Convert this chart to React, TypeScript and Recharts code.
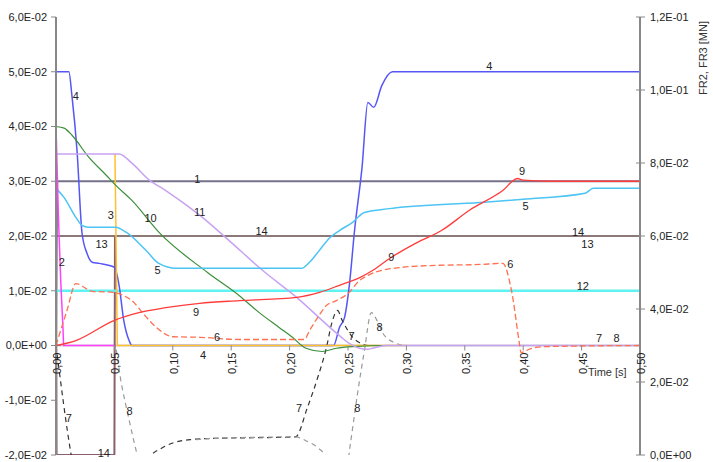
import { LineChart, Line, XAxis, YAxis, ReferenceLine, ReferenceDot } from "recharts";

// time [s] and value pairs, one pair of arrays per curve
const t1 = [0, 0.001, 0.5];
const v1 = [0, 0.03, 0.03];

const t2 = [0, 0.002, 0.004, 0.006, 0.0065, 0.05];
const v2 = [0.04, 0.024, 0.012, 0.003, 0, 0];

const t3 = [0.0505, 0.0525, 0.3];
const v3 = [0.035, 0, 0];

const t4 = [0, 0.011, 0.0137, 0.018, 0.0223, 0.0266, 0.031, 0.037, 0.05, 0.054, 0.058, 0.0626, 0.065, 0.2376, 0.2427, 0.247, 0.2513, 0.2556, 0.262, 0.267, 0.272, 0.279, 0.288, 0.5];
const v4 = [0.05, 0.05, 0.0455, 0.0356, 0.0205, 0.0168, 0.0152, 0.015, 0.0143, 0.011, 0.0046, 0.0009, 0, 0, 0.0033, 0.0051, 0.0113, 0.021, 0.0325, 0.0444, 0.0435, 0.0475, 0.05, 0.05];

const t5 = [0, 0.007, 0.017, 0.022, 0.028, 0.051, 0.06, 0.077, 0.088, 0.103, 0.21, 0.217, 0.2256, 0.234, 0.2427, 0.254, 0.264, 0.2856, 0.363, 0.4, 0.453, 0.46, 0.5];
const v5 = [0.0287, 0.027, 0.0234, 0.022, 0.0216, 0.0216, 0.0207, 0.0174, 0.015, 0.0141, 0.0141, 0.0152, 0.0174, 0.0196, 0.021, 0.0225, 0.0243, 0.025, 0.0261, 0.0267, 0.0278, 0.0287, 0.0287];

const t6 = [0, 0.0094, 0.017, 0.031, 0.05, 0.058, 0.065, 0.074, 0.086, 0.1, 0.123, 0.157, 0.2127, 0.217, 0.224, 0.2315, 0.24, 0.25, 0.26, 0.267, 0.283, 0.32, 0.363, 0.3825, 0.39, 0.397, 0.398, 0.406, 0.42, 0.5];
const v6 = [0, 0.0064, 0.0113, 0.0099, 0.0097, 0.0091, 0.0082, 0.006, 0.0033, 0.0016, 0.0015, 0.0011, 0.0011, 0.0027, 0.0051, 0.0073, 0.0082, 0.0095, 0.0119, 0.0128, 0.0139, 0.0146, 0.0148, 0.015, 0.01, 0, -0.0013, -0.0006, -0.0002, 0];

const t7 = [0, 0.013, 0.025, 0.05, 0.07, 0.08, 0.09, 0.1, 0.115, 0.13, 0.205, 0.2153, 0.224, 0.2315, 0.236, 0.241, 0.245, 0.25, 0.254, 0.26, 0.268, 0.5];
const v7 = [0, -0.02, -0.032, -0.035, -0.026, -0.0205, -0.0188, -0.0178, -0.0172, -0.017, -0.0167, -0.0113, -0.0059, -0.0004, 0.004, 0.0064, 0.0046, 0.0027, 0.0015, 0.0005, 0, 0];

const t8 = [0, 0.05, 0.056, 0.063, 0.0695, 0.078, 0.09, 0.12, 0.13, 0.205, 0.215, 0.225, 0.232, 0.24, 0.247, 0.252, 0.258, 0.264, 0.27, 0.275, 0.28, 0.29, 0.3, 0.5];
const v8 = [0, 0, -0.007, -0.014, -0.02, -0.027, null, -0.0172, -0.017, -0.0167, -0.0175, -0.0188, -0.0205, -0.025, -0.025, -0.018, -0.009, -0.001, 0.006, 0.0045, 0.0022, 0.0005, 0, 0];

const t9 = [0, 0.017, 0.05, 0.071, 0.094, 0.123, 0.157, 0.206, 0.2256, 0.2427, 0.26, 0.271, 0.2856, 0.309, 0.33, 0.354, 0.3825, 0.395, 0.4, 0.423, 0.5];
const v9 = [0, 0.0009, 0.0046, 0.006, 0.0069, 0.0077, 0.0082, 0.0088, 0.0097, 0.011, 0.0124, 0.0137, 0.0159, 0.0188, 0.021, 0.0247, 0.0283, 0.0305, 0.0302, 0.03, 0.03];

const t10 = [0, 0.007, 0.0137, 0.028, 0.043, 0.051, 0.065, 0.088, 0.13, 0.157, 0.174, 0.191, 0.2024, 0.214, 0.228, 0.24, 0.254, 0.283, 0.5];
const v10 = [0.04, 0.0397, 0.0384, 0.0344, 0.0311, 0.0293, 0.0265, 0.0207, 0.0133, 0.0091, 0.006, 0.0033, 0.0015, -0.0005, -0.0011, -0.0005, -0.0002, 0, 0];

const t11 = [0, 0.054, 0.065, 0.08, 0.094, 0.123, 0.148, 0.177, 0.206, 0.2427, 0.251, 0.26, 0.266, 0.273, 0.283, 0.5];
const v11 = [0.035, 0.035, 0.0333, 0.0302, 0.0283, 0.0238, 0.0192, 0.0137, 0.0088, 0.0018, 0.0004, -0.0005, -0.0007, -0.0004, 0, 0];

const t12 = [0, 0.5];
const v12 = [0.01, 0.01];

const t13 = [0, 0.5];
const v13 = [0.02, 0.02];

// FR on the right axis
const t14 = [0, 0.0005, 0.05, 0.0505, 0.5];
const v14 = [0.06, 0, 0, 0.06, 0.06];

const leftTicks = [-0.02, -0.01, 0, 0.01, 0.02, 0.03, 0.04, 0.05, 0.06];
const rightTicks = [0, 0.02, 0.04, 0.06, 0.08, 0.1, 0.12];
const timeTicks = [0, 0.05, 0.1, 0.15, 0.2, 0.25, 0.3, 0.35, 0.4, 0.45, 0.5];

// curve number labels sitting on the plot
const labelText = ["1", "4", "4", "4", "3", "10", "11", "14", "14", "13", "13", "2", "5", "5", "9", "9", "9", "6", "6", "12", "7", "14", "8", "7", "8", "7", "8", "7", "8"];
const labelT = [0.121, 0.017, 0.371, 0.126, 0.047, 0.081, 0.123, 0.176, 0.447, 0.039, 0.455, 0.005, 0.087, 0.402, 0.12, 0.287, 0.399, 0.138, 0.389, 0.451, 0.011, 0.041, 0.063, 0.208, 0.258, 0.253, 0.277, 0.465, 0.48];
const labelV = [0.0305, 0.0455, 0.051, -0.0018, 0.0238, 0.0232, 0.0243, 0.021, 0.0207, 0.0186, 0.0185, 0.0152, 0.0137, 0.0254, 0.0062, 0.0161, 0.0318, 0.0016, 0.0148, 0.0108, -0.0133, -0.0197, -0.0119, -0.0115, -0.0115, 0.0018, 0.0033, 0.0013, 0.0013];

const zip = (t: number[], v: (number | null)[]) => t.map((x, i) => ({ t: x, v: v[i] }));

const series = [
  { id: "14", data: zip(t14, v14), color: "#8c5f6a", width: 2, axis: "right", type: "linear" },
  { id: "13", data: zip(t13, v13), color: "#8b7878", width: 2, axis: "left", type: "linear" },
  { id: "1", data: zip(t1, v1), color: "#76728a", width: 2, axis: "left", type: "linear" },
  { id: "12", data: zip(t12, v12), color: "#5ef2f2", width: 2.5, axis: "left", type: "linear" },
  { id: "4", data: zip(t4, v4), color: "#5656f5", width: 1.5, axis: "left", type: "monotone" },
  { id: "7", data: zip(t7, v7), color: "#333333", width: 1.2, axis: "left", type: "monotone", dash: "5 4" },
  { id: "8", data: zip(t8, v8), color: "#9a9a9a", width: 1.2, axis: "left", type: "monotone", dash: "5 4" },
  { id: "3", data: zip(t3, v3), color: "#ffc030", width: 1.5, axis: "left", type: "linear" },
  { id: "10", data: zip(t10, v10), color: "#3a8f3a", width: 1.2, axis: "left", type: "monotone" },
  { id: "11", data: zip(t11, v11), color: "#c8a2f2", width: 1.5, axis: "left", type: "monotone" },
  { id: "5", data: zip(t5, v5), color: "#4cc4f4", width: 1.5, axis: "left", type: "monotone" },
  { id: "2", data: zip(t2, v2), color: "#ff40ff", width: 1.5, axis: "left", type: "linear" },
  { id: "6", data: zip(t6, v6), color: "#ff7050", width: 1.3, axis: "left", type: "monotone", dash: "6 3" },
  { id: "9", data: zip(t9, v9), color: "#ff3b3b", width: 1.3, axis: "left", type: "monotone" },
];

const font = "'Liberation Sans', Arial, sans-serif";

const sci = (val: number) => {
  const [m, e] = val.toExponential(1).split("e");
  const n = parseInt(e, 10);
  return `${m.replace(".", ",")}E${n < 0 ? "-" : "+"}${String(Math.abs(n)).padStart(2, "0")}`;
};

const RightTick = (p: any) => (
  <g>
    <line x1={p.x - 14} y1={p.y} x2={p.x - 10} y2={p.y} stroke="#888" />
    <text x={p.x} y={p.y} dy={4} fontSize={11} fontFamily={font} fill="#222">
      {sci(p.payload.value)}
    </text>
  </g>
);

export default function App() {
  return (
    <div style={{ position: "relative", width: 713, height: 462, background: "#fff" }}>
      <style>{"body{margin:0}"}</style>
      <LineChart width={713} height={462} margin={{ top: 17, right: 0, bottom: 7, left: 0 }}>
        <XAxis type="number" dataKey="t" domain={[0, 0.5]} hide allowDataOverflow />
        <YAxis
          yAxisId="left"
          domain={[-0.02, 0.06]}
          ticks={leftTicks}
          interval={0}
          allowDataOverflow
          width={56}
          tickFormatter={sci}
          tickSize={5}
          tickMargin={4}
          axisLine={{ stroke: "#888", strokeWidth: 2 }}
          tickLine={{ stroke: "#888" }}
          tick={{ fontSize: 11, fontFamily: font, fill: "#222" }}
        />
        <YAxis
          yAxisId="right"
          orientation="right"
          domain={[0, 0.12]}
          ticks={rightTicks}
          interval={0}
          allowDataOverflow
          width={73}
          tickSize={5}
          tickMargin={5}
          axisLine={{ stroke: "#888", strokeWidth: 2 }}
          tickLine={{ stroke: "#888" }}
          tick={RightTick}
        />
        <ReferenceLine yAxisId="left" y={0} stroke="#cfcfcf" strokeWidth={2} />
        {series.map((s) => (
          <Line
            key={s.id}
            yAxisId={s.axis}
            data={s.data}
            dataKey="v"
            type={s.type as any}
            stroke={s.color}
            strokeWidth={s.width}
            strokeDasharray={s.dash}
            dot={false}
            activeDot={false}
            isAnimationActive={false}
          />
        ))}
        {timeTicks.map((t) => (
          <ReferenceDot
            key={"tick" + t}
            yAxisId="left"
            x={t}
            y={0}
            r={0}
            shape={(p: any) => (
              <g>
                <line x1={p.cx} y1={p.cy} x2={p.cx} y2={p.cy + 5} stroke="#888" />
                <text
                  x={p.cx + 5}
                  y={p.cy + 7}
                  transform={`rotate(-90, ${p.cx + 5}, ${p.cy + 7})`}
                  textAnchor="end"
                  fontSize={11}
                  fontFamily={font}
                  fill="#222"
                >
                  {t.toFixed(2).replace(".", ",")}
                </text>
              </g>
            )}
          />
        ))}
        <ReferenceDot
          yAxisId="left"
          x={0.472}
          y={-0.0049}
          r={0}
          shape={(p: any) => (
            <text x={p.cx} y={p.cy} textAnchor="middle" dominantBaseline="central" fontSize={11} fontFamily={font} fill="#333">
              Time [s]
            </text>
          )}
        />
        {labelText.map((txt, i) => (
          <ReferenceDot
            key={"lbl" + i}
            yAxisId="left"
            x={labelT[i]}
            y={labelV[i]}
            r={0}
            shape={(p: any) => (
              <text x={p.cx} y={p.cy} textAnchor="middle" dominantBaseline="central" fontSize={11} fontFamily={font} fill="#222">
                {txt}
              </text>
            )}
          />
        ))}
      </LineChart>
      <svg width={713} height={462} style={{ position: "absolute", left: 0, top: 0, pointerEvents: "none" }}>
        <text
          x={707}
          y={58}
          transform="rotate(-90, 707, 58)"
          textAnchor="middle"
          fontSize={11}
          fontFamily={font}
          fill="#333"
        >
          FR2, FR3 [MN]
        </text>
      </svg>
    </div>
  );
}
